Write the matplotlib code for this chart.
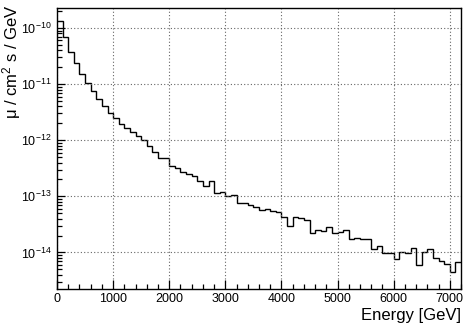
import numpy as np
import matplotlib
matplotlib.use("Agg")
import matplotlib.pyplot as plt
from matplotlib.ticker import MultipleLocator, LogLocator, NullFormatter, FixedLocator

plt.rcParams['font.family'] = ['Liberation Sans', 'DejaVu Sans']
plt.rcParams['mathtext.fontset'] = 'custom'
plt.rcParams['mathtext.rm'] = 'Liberation Sans'
plt.rcParams['mathtext.it'] = 'Liberation Sans:italic'

# Energy histogram: 72 bins of 100 GeV from 0 to 7200 GeV
e_min, e_max, n_bins = 0, 7200, 72
flux = [
    1.35e-10, 6.8e-11, 3.8e-11, 2.4e-11, 1.51e-11, 1.03e-11, 7.6e-12, 5.4e-12,
    4.1e-12, 3.1e-12, 2.45e-12, 1.95e-12, 1.63e-12, 1.42e-12, 1.19e-12, 9.9e-13,
    7.9e-13, 6.2e-13, 4.75e-13, 4.75e-13, 3.5e-13, 3.15e-13, 2.74e-13, 2.5e-13,
    2.3e-13, 1.87e-13, 1.53e-13, 1.9e-13, 1.13e-13, 1.21e-13, 1.01e-13, 1.05e-13,
    7.7e-14, 7.7e-14, 7.0e-14, 6.4e-14, 5.7e-14, 5.9e-14, 5.5e-14, 5.2e-14,
    4.3e-14, 2.96e-14, 4.3e-14, 4.05e-14, 3.73e-14, 2.19e-14, 2.5e-14, 2.4e-14,
    2.8e-14, 2.25e-14, 2.34e-14, 2.5e-14, 1.71e-14, 1.78e-14, 1.71e-14, 1.71e-14,
    1.14e-14, 1.3e-14, 9.9e-15, 9.9e-15, 7.5e-15, 1.03e-14, 9.9e-15, 1.2e-14,
    5.96e-15, 1.03e-14, 1.14e-14, 7.9e-15, 7.1e-15, 6.1e-15, 4.5e-15, 6.8e-15,
]
y_major = [1e-14, 1e-13, 1e-12, 1e-11, 1e-10]
x_label = "Energy [GeV]"
y_label = "μ / cm$^{2}$ s / GeV"

edges = np.linspace(e_min, e_max, n_bins + 1)

fig = plt.figure(figsize=(4.69, 3.27), dpi=100)
ax = fig.add_axes([57/469, 1 - 289/327, (461 - 57)/469, (289 - 8)/327])

ax.stairs(flux, edges, color='black', linewidth=1.0, baseline=None)

ax.set_yscale('log')
ax.set_xlim(e_min, e_max)
ax.set_ylim(2.23e-15, 2.27e-10)

ax.xaxis.set_major_locator(MultipleLocator(1000))
ax.xaxis.set_minor_locator(MultipleLocator(200))
ax.yaxis.set_major_locator(FixedLocator(y_major))
ax.yaxis.set_minor_locator(LogLocator(base=10, subs=np.arange(2, 10), numticks=20))
ax.yaxis.set_minor_formatter(NullFormatter())

ax.tick_params(axis='both', which='both', direction='in', top=False, right=False,
               color='black', width=0.9)
ax.tick_params(axis='x', which='major', length=6.5, pad=3, labelsize=9)
ax.tick_params(axis='x', which='minor', length=3.5)
ax.tick_params(axis='y', which='major', length=6, pad=4, labelsize=9)
ax.tick_params(axis='y', which='minor', length=3.5)

ax.grid(True, which='major', color='#666666', linestyle=(0, (1, 2)), linewidth=0.8)

for s in ax.spines.values():
    s.set_linewidth(1.0)
    s.set_color('black')

ax.set_xlabel(x_label, fontsize=12, loc='right')
ax.xaxis.set_label_coords(1.0, -0.068)
ax.set_ylabel(y_label, fontsize=12, loc='top')
ax.yaxis.set_label_coords(-0.083, 1.012)

fig.savefig("out.png", dpi=100)
